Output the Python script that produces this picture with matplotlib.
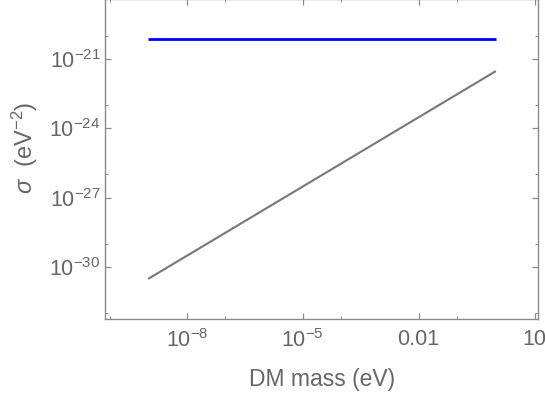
import matplotlib
matplotlib.use("Agg")
import matplotlib.pyplot as plt
from matplotlib.ticker import FixedLocator, NullFormatter

plt.rcParams["font.family"] = ["Liberation Sans", "DejaVu Sans"]
plt.rcParams["mathtext.fontset"] = "custom"
plt.rcParams["mathtext.rm"] = "Liberation Sans"
plt.rcParams["mathtext.sf"] = "Liberation Sans"
plt.rcParams["mathtext.it"] = "Liberation Sans:italic"

# values
dm_mass = [1e-9, 1e-6, 1e-3, 1.0]
sigma_lower = [3e-31, 3e-28, 3e-25, 3e-22]
sigma_upper = [7.5e-21, 7.5e-21, 7.5e-21, 7.5e-21]

x_major = [1e-8, 1e-5, 1e-2, 10]
x_major_labels = [r"$10^{-8}$", r"$10^{-5}$", "0.01", "10"]
x_minor = [1e-10, 1e-7, 1e-4, 1e-1]
y_major = [1e-30, 1e-27, 1e-24, 1e-21]
y_major_labels = [r"$10^{-30}$", r"$10^{-27}$", r"$10^{-24}$", r"$10^{-21}$"]
y_minor = [1e-32, 1e-29, 1e-26, 1e-23, 1e-20]

text_color = "#666666"
frame_color = "#8a8a8a"

fig = plt.figure(figsize=(5.45, 4.0), dpi=100)
ax = fig.add_axes([105.3 / 545, 81 / 400, 432.7 / 545, 320 / 400])

ax.plot(dm_mass, sigma_upper, color="#0000ff", lw=2.0, solid_capstyle="butt")
ax.plot(dm_mass, sigma_lower, color="#777777", lw=1.5, solid_capstyle="butt")

ax.set_xscale("log")
ax.set_yscale("log")
ax.set_xlim(10 ** -10.11, 10 ** 1.09)
ax.set_ylim(10 ** -32.26, 10 ** -18.4)

ax.xaxis.set_major_locator(FixedLocator(x_major))
ax.xaxis.set_minor_locator(FixedLocator(x_minor))
ax.set_xticklabels(x_major_labels)
ax.xaxis.set_minor_formatter(NullFormatter())
ax.yaxis.set_major_locator(FixedLocator(y_major))
ax.yaxis.set_minor_locator(FixedLocator(y_minor))
ax.set_yticklabels(y_major_labels)
ax.yaxis.set_minor_formatter(NullFormatter())

ax.tick_params(which="both", direction="in", top=True, right=True,
               color=frame_color, labelcolor=text_color, labelsize=15.5)
ax.tick_params(which="major", length=4.5, width=0.9)
ax.tick_params(which="minor", length=2.5, width=0.7)
ax.tick_params(axis="x", which="major", pad=7)
ax.tick_params(axis="y", which="major", pad=3.5)

for sp in ax.spines.values():
    sp.set_color(frame_color)
    sp.set_linewidth(1.0)

ax.set_xlabel("DM mass (eV)", color=text_color, fontsize=16.5, labelpad=12)
ax.set_ylabel(r"$\mathit{\sigma}$  (eV$^{-2}$)", color=text_color, fontsize=17)
ax.yaxis.set_label_coords(-0.151, 0.534)

fig.savefig("out.png", dpi=100)
